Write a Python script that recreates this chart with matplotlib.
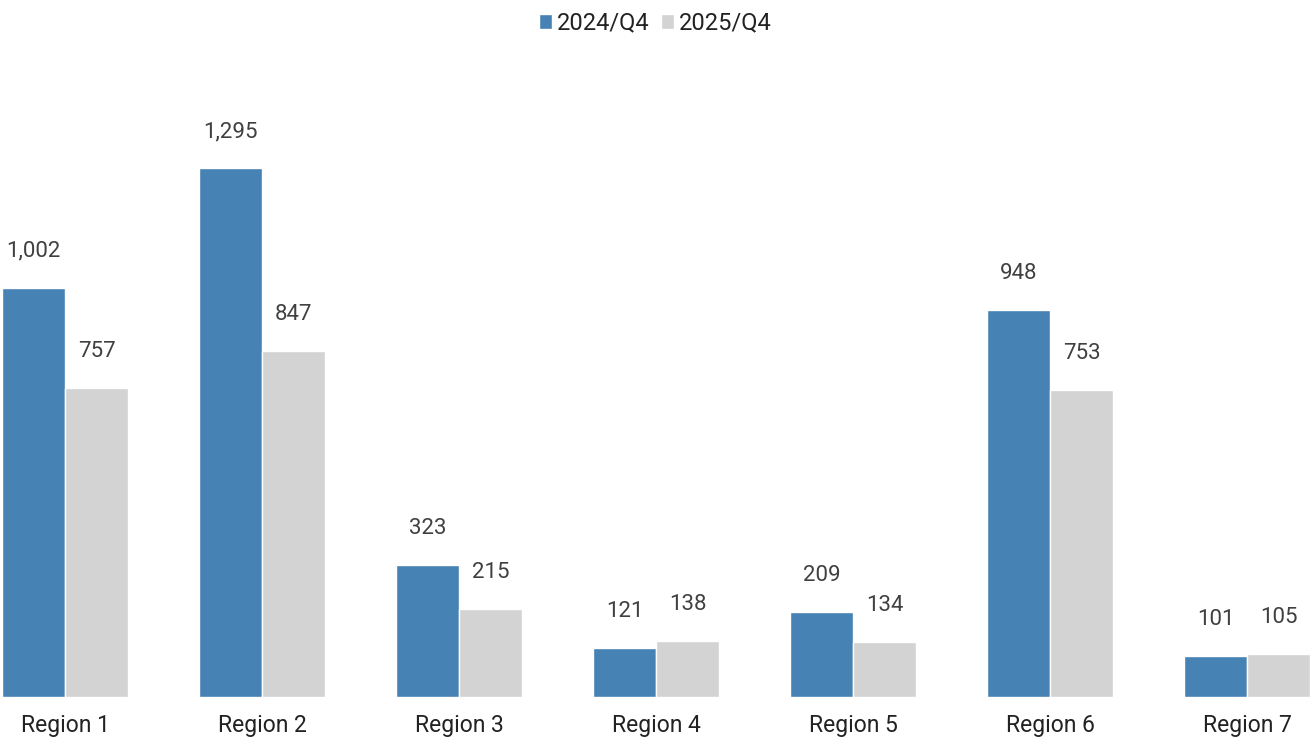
import matplotlib
matplotlib.use("Agg")
import matplotlib.pyplot as plt
import numpy as np

categories = ["Region 1", "Region 2", "Region 3", "Region 4", "Region 5", "Region 6", "Region 7"]
series_names = ["2024/Q4", "2025/Q4"]
values_2024 = [1002, 1295, 323, 121, 209, 948, 101]
values_2025 = [757, 847, 215, 138, 134, 753, 105]
colors = ["#4682B4", "#D3D3D3"]

plt.rcParams['font.family'] = ['Roboto', 'DejaVu Sans']

fig = plt.figure(figsize=(13.1, 7.38), dpi=100)
W, H = 1310, 738
ax = fig.add_axes([2 / W, (H - 697) / H, (1310 - 2) / W, (697 - 60) / H])

x = np.arange(len(categories))
bw = 0.32
b1 = ax.bar(x - bw / 2, values_2024, bw, color=colors[0], edgecolor="white", linewidth=1, label=series_names[0])
b2 = ax.bar(x + bw / 2, values_2025, bw, color=colors[1], edgecolor="white", linewidth=1, label=series_names[1])

for bars, vals in ((b1, values_2024), (b2, values_2025)):
    for rect, v in zip(bars, vals):
        ax.annotate(f"{v:,}", (rect.get_x() + rect.get_width() / 2, rect.get_height()),
                    xytext=(0, 26), textcoords="offset pixels",
                    ha="center", va="bottom", fontsize=16, color="#404040")

ax.set_xlim(-bw, len(categories) - 1 + bw)
ax.set_ylim(0, 636 / (528 / 1295))
ax.set_xticks(x)
ax.set_xticklabels(categories, fontsize=16.5, color="#222222")
ax.tick_params(axis="x", length=0, pad=12)
ax.set_yticks([])
for s in ax.spines.values():
    s.set_visible(False)

leg = fig.legend(handles=[b1, b2], labels=series_names, loc="upper center", bbox_to_anchor=(0.5, 1.0),
                 ncol=2, frameon=False, fontsize=17, handlelength=0.55, handleheight=0.55,
                 handletextpad=0.2, columnspacing=0.5, borderaxespad=0.1)
for t in leg.get_texts():
    t.set_color("#222222")

fig.savefig("out.png", dpi=100)
